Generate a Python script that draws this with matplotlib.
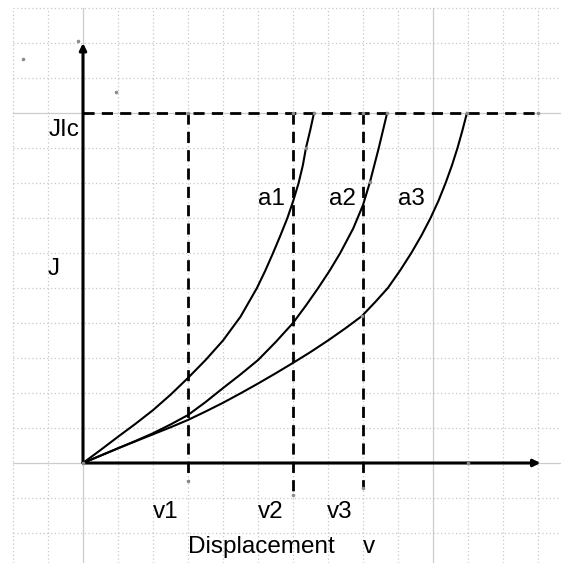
import matplotlib

matplotlib.use("Agg")
import matplotlib.pyplot as plt

plt.rcParams["font.family"] = ["Liberation Sans", "DejaVu Sans"]

# J vs displacement for three crack lengths a1 < a2 < a3
a1_v = [0, 0.5, 1, 1.5, 2, 2.5, 3, 3.5, 4, 4.5, 4.97, 5.21, 5.43, 5.64, 5.84, 6.01, 6.16, 6.28, 6.37, 6.49, 6.6]
a1_j = [0, 0.37, 0.75, 1.12, 1.51, 1.95, 2.43, 2.94, 3.5, 4.18, 5.0, 5.5, 6.0, 6.5, 7.0, 7.5, 8.0, 8.5, 9.0, 9.5, 10.0]
a2_v = [0, 0.5, 1, 1.5, 2, 2.5, 3, 3.5, 4, 4.5, 5, 5.5, 6, 6.37, 6.72, 7.05, 7.35, 7.72, 8.0, 8.2, 8.45, 8.69]
a2_j = [0, 0.21, 0.42, 0.63, 0.85, 1.1, 1.37, 1.74, 2.14, 2.53, 2.94, 3.45, 4.0, 4.5, 5.0, 5.5, 6.0, 6.7, 7.37, 8.03, 9.0, 10.0]
a3_v = [0, 0.5, 1, 1.5, 2, 2.5, 3, 3.5, 4, 4.5, 5, 5.5, 6, 6.5, 7.0, 7.5, 7.97, 8.35, 8.71,
        9.06, 9.38, 9.67, 9.93, 10.16, 10.36, 10.54, 10.7, 10.84, 10.97]
a3_j = [0, 0.21, 0.42, 0.62, 0.82, 1.02, 1.23, 1.47, 1.72, 1.99, 2.27, 2.56, 2.86, 3.17, 3.5, 3.85, 4.2, 4.6, 5.0,
        5.5, 6.0, 6.5, 7.0, 7.5, 8.0, 8.5, 9.0, 9.5, 10.0]
curves = [(a1_v, a1_j), (a2_v, a2_j), (a3_v, a3_j)]

j_ic = 10.0
j_ic_end = 13.0
v_crit = [3, 6, 8]
v_crit_low = [-0.51, -0.91, -0.71]

# construction points left on the sheet
pts_x = [-1.71, -0.14, 0.94, 3, 6, 6.6, 8, 8.69, 10.97, 13, 6.37, 8.2, 7.97, 3, 6, 8, 11, 0]
pts_y = [11.54, 12.06, 10.6, 10, 10, 10, 10, 10, 10, 10, 9.0, 8.03, 4.2, -0.51, -0.91, -0.71, 0, 0]

labels = [
    ("JIc", -0.97, 9.34),
    ("J", -1.0, 5.37),
    ("a1", 5.0, 7.37),
    ("a2", 7.03, 7.37),
    ("a3", 9.0, 7.37),
    ("v1", 2.0, -1.57),
    ("v2", 5.0, -1.57),
    ("v3", 6.97, -1.57),
    ("Displacement", 3.0, -2.57),
    ("v", 8.0, -2.57),
]

x_lo, x_hi = -83 / 35, 478 / 35
y_lo, y_hi = -100 / 35, 463 / 35

fig = plt.figure(figsize=(5.61, 5.63), dpi=100)
ax = fig.add_axes([0, 0, 1, 1])
ax.set_xlim(x_lo, x_hi)
ax.set_ylim(y_lo, y_hi)
ax.axis("off")

# background grid: dotted every unit, solid every ten
for gx in range(-2, 14):
    if gx % 10 == 0:
        ax.plot([gx, gx], [y_lo, 13], color="#cccccc", lw=0.9, zorder=0)
    else:
        ax.plot([gx, gx], [y_lo, 13], color="#c8c8c8", lw=0.9, ls=(0, (1, 2)), zorder=0)
for gy in range(-2, 14):
    if gy % 10 == 0:
        ax.plot([-2, x_hi], [gy, gy], color="#cccccc", lw=0.9, zorder=0)
    else:
        ax.plot([-2, x_hi], [gy, gy], color="#c8c8c8", lw=0.9, ls=(0, (1, 2)), zorder=0)

# axes arrows
arrow = dict(arrowstyle="-|>", lw=2.2, color="black", mutation_scale=10, shrinkA=0, shrinkB=0)
ax.annotate("", xy=(0, 12), xytext=(0, 0), arrowprops=arrow, zorder=3)
ax.annotate("", xy=(13.07, 0), xytext=(0, 0), arrowprops=arrow, zorder=3)

# critical J level and displacements
dash = (0, (4, 2.6))
ax.plot([0, j_ic_end], [j_ic, j_ic], color="black", lw=2, ls=dash, zorder=2)
for v, lo in zip(v_crit, v_crit_low):
    ax.plot([v, v], [j_ic, lo], color="black", lw=2, ls=dash, zorder=2)

for cv, cj in curves:
    ax.plot(cv, cj, color="black", lw=1.5, zorder=3, solid_joinstyle="round")

ax.plot(pts_x, pts_y, ls="none", marker="o", ms=2.6, color="#8c8c8c", mec="none", zorder=4)

for txt, tx, ty in labels:
    ax.text(tx, ty, txt, fontsize=17.5, ha="left", va="baseline", color="black", zorder=5)

fig.savefig("out.png", dpi=100)
